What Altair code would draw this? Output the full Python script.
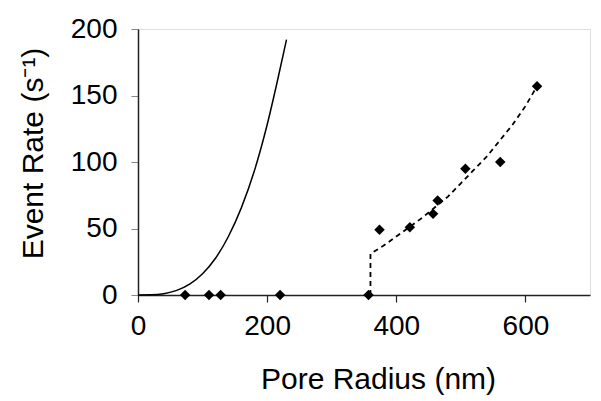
import altair as alt
import pandas as pd

# Measured data points (diamonds)
pt_radius = [73, 110, 128, 220, 357, 374, 421, 457, 464, 507, 561, 618]
pt_rate = [0, 0, 0, 0, 0, 49, 51, 61, 71, 95, 100, 157]

# Solid model curve
solid_r = [0, 20, 40, 60, 80, 100, 120, 140, 160, 180, 200, 215, 230]
solid_y = [0, 0.1, 1.0, 3.5, 8.2, 16, 27.6, 44, 65.5, 93, 128, 159, 192]

# Dashed fit curve
dash_r = [360, 360, 380, 400, 420, 440, 460, 480, 500, 520, 540, 560, 580, 600, 618]
dash_y = [0, 31, 37, 44, 51, 58, 66, 74, 84, 94, 104, 116, 128, 142, 157]

x_ticks = [0, 200, 400, 600]
y_ticks = [0, 50, 100, 150, 200]

pts = pd.DataFrame({"r": pt_radius, "y": pt_rate})
solid = pd.DataFrame({"r": solid_r, "y": solid_y, "i": list(range(len(solid_r)))})
dash = pd.DataFrame({"r": dash_r, "y": dash_y, "i": list(range(len(dash_r)))})

FONT = "Liberation Sans"

xs = alt.Scale(domain=[0, 700], nice=False, zero=True)
ys = alt.Scale(domain=[0, 200], nice=False)

xaxis = alt.Axis(
    values=x_ticks, grid=False, domainColor="#222", domainWidth=1.5,
    tickColor="#222", tickWidth=1.2, tickSize=7, labelFont=FONT, labelFontSize=28,
    labelColor="black", labelPadding=10, labelFlush=False,
    title="Pore Radius (nm)", titleFont=FONT,
    titleFontSize=30, titleFontWeight="normal", titleColor="black",
    titleBaseline="alphabetic", titleY=93, titleX=240, titleAlign="center",
)
yaxis = alt.Axis(
    values=y_ticks, grid=False, domainColor="#222", domainWidth=1.5,
    tickColor="#888", tickWidth=1, tickSize=7, labelFont=FONT, labelFontSize=28,
    labelColor="black", labelPadding=14, labelFlush=False,
    title="Event Rate (s⁻¹)", titleFont=FONT,
    titleFontSize=30, titleFontWeight="normal", titleColor="black",
    titleBaseline="alphabetic", titleX=-96, titleY=124, titleAngle=-90,
    titleAlign="center",
)

solid_line = alt.Chart(solid).mark_line(color="black", strokeWidth=1.5, interpolate="monotone").encode(
    x=alt.X("r:Q", scale=xs, axis=xaxis),
    y=alt.Y("y:Q", scale=ys, axis=yaxis),
    order="i:Q",
)
dash_line = alt.Chart(dash).mark_line(color="black", strokeWidth=1.8, strokeDash=[5, 4]).encode(
    x=alt.X("r:Q", scale=xs),
    y=alt.Y("y:Q", scale=ys),
    order="i:Q",
)
points = alt.Chart(pts).mark_point(shape="diamond", filled=True, color="black", size=110, opacity=1).encode(
    x=alt.X("r:Q", scale=xs),
    y=alt.Y("y:Q", scale=ys),
)

chart = alt.layer(solid_line, dash_line, points).properties(
    width=452, height=266,
    autosize=alt.AutoSizeParams(type="none"),
    padding={"left": 130, "top": 21, "right": 3, "bottom": 105},
).configure_view(stroke=None).configure(background="white")

chart.save("out.html", embed_options={"renderer": "svg", "actions": False})
